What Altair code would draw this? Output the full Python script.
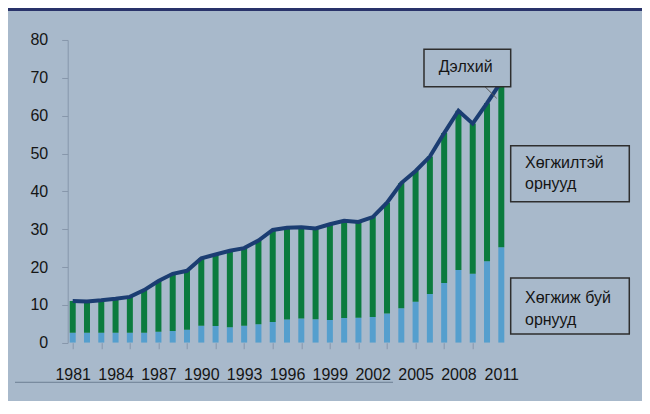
import altair as alt
import pandas as pd

# ---- data ----
years = list(range(1981, 2012))
world = [11.0, 10.9, 11.2, 11.6, 12.1, 13.9, 16.3, 18.2, 19.0, 22.3,
         23.3, 24.3, 25.0, 27.0, 29.8, 30.4, 30.5, 30.2, 31.3, 32.2,
         31.9, 33.2, 37.0, 42.2, 45.4, 49.2, 55.4, 61.3, 57.9, 63.3, 69.0]
developing = [2.65, 2.65, 2.65, 2.65, 2.65, 2.65, 2.9, 3.1, 3.4, 4.5,
              4.4, 4.1, 4.5, 4.9, 5.5, 6.1, 6.4, 6.2, 6.0, 6.5,
              6.6, 6.8, 7.7, 9.1, 10.8, 12.9, 15.8, 19.2, 18.2, 21.5, 25.2]
y_ticks = [0, 10, 20, 30, 40, 50, 60, 70, 80]
tick_years = list(range(1981, 2010, 2))
label_years = list(range(1981, 2012, 3))

label_world = "Дэлхий"
label_developed = ["Хөгжилтэй", "орнууд"]
label_developing = ["Хөгжиж буй", "орнууд"]

df = pd.DataFrame({"year": years, "world": world, "developing": developing})

# ---- styling ----
BG = "#a8b9cb"
NAVY = "#29336a"
GREEN = "#0b7b3e"
BLUE = "#559fce"
LINE = "#1b3d72"
AXIS = "#8797ab"
TXT = "#151515"
FONT = "Liberation Sans"

W = 452.9
H = 302.7

x_values = sorted(set(tick_years) | set(label_years))
xscale = alt.Scale(domain=[1981, 2012], nice=False, zero=False)
yscale = alt.Scale(domain=[0, 80], nice=False)

xaxis = alt.Axis(
    values=x_values,
    labelExpr="(datum.value - 1981) % 3 == 0 ? '' + datum.value : ''",
    tickOpacity={"condition": {"test": "datum.value % 2 == 0 || datum.value > 2009", "value": 0}, "value": 1},
    domain=False, grid=False, title=None, tickSize=6, tickColor=AXIS,
    labelFontSize=16, labelFont=FONT, labelColor=TXT, labelPadding=18,
    labelOverlap=False, labelFlush=False, labelBound=False,
)
yaxis = alt.Axis(
    values=y_ticks, tickCount=9, domain=True, domainColor=AXIS, grid=False, title=None,
    tickSize=6, tickColor=AXIS, labelFontSize=16, labelFont=FONT,
    labelColor=TXT, labelPadding=14, labelOverlap=False, labelFlush=False,
    labelBound=False,
)

base = alt.Chart(df)
X = alt.X("year:Q", scale=xscale, axis=xaxis)

blue = base.mark_bar(size=6, clip=True, color=BLUE).encode(
    x=X,
    y=alt.Y("developing:Q", scale=yscale, axis=yaxis),
)
green = base.mark_bar(size=6, clip=True, color=GREEN).encode(
    x=X,
    y=alt.Y("developing:Q", scale=yscale, axis=yaxis),
    y2="world:Q",
)
line = base.mark_line(color=LINE, strokeWidth=4).encode(
    x=X,
    y=alt.Y("world:Q", scale=yscale, axis=yaxis),
)

one = alt.Data(values=[{}])

def box(x, x2, y, y2):
    return alt.Chart(one).mark_rect(fill=BG, stroke="#2e2e2e", strokeWidth=1.5).encode(
        x=alt.value(x), x2=alt.value(x2), y=alt.value(y), y2=alt.value(y2))

def txt(x, y, t, align="left"):
    return alt.Chart(one).mark_text(
        align=align, baseline="alphabetic", font=FONT, fontSize=16, color=TXT, lineHeight=21.7
    ).encode(x=alt.value(x), y=alt.value(y), text=alt.value(t))

top_bar = alt.Chart(one).mark_rect(color=NAVY).encode(
    x=alt.value(-59.7), x2=alt.value(574.3), y=alt.value(-32), y2=alt.value(-29))
under_rule = alt.Chart(one).mark_rule(color="#6b7d93", strokeWidth=1).encode(
    x=alt.value(-52.7), x2=alt.value(325.3), y=alt.value(342.3))
connector = alt.Chart(one).mark_rule(color="#555555", strokeWidth=1).encode(
    x=alt.value(417.3), x2=alt.value(429), y=alt.value(46.7), y2=alt.value(58.3))

chart = alt.layer(
    top_bar, under_rule, blue, green, line, connector,
    box(356.3, 443, 9.3, 46.7), txt(398, 32.5, label_world, "center"),
    box(443, 561.6, 105.7, 161.7), txt(457.3, 127.7, label_developed),
    box(443, 561.6, 238, 294), txt(457.3, 263, label_developing),
).properties(
    width=W, height=H,
    autosize=alt.AutoSizeParams(type="none"),
    padding={"left": 59.7, "top": 32, "right": 121.4, "bottom": 58},
    background=BG,
).configure_view(stroke=None)

chart.save("out.html", embed_options={"renderer": "svg", "actions": False})
